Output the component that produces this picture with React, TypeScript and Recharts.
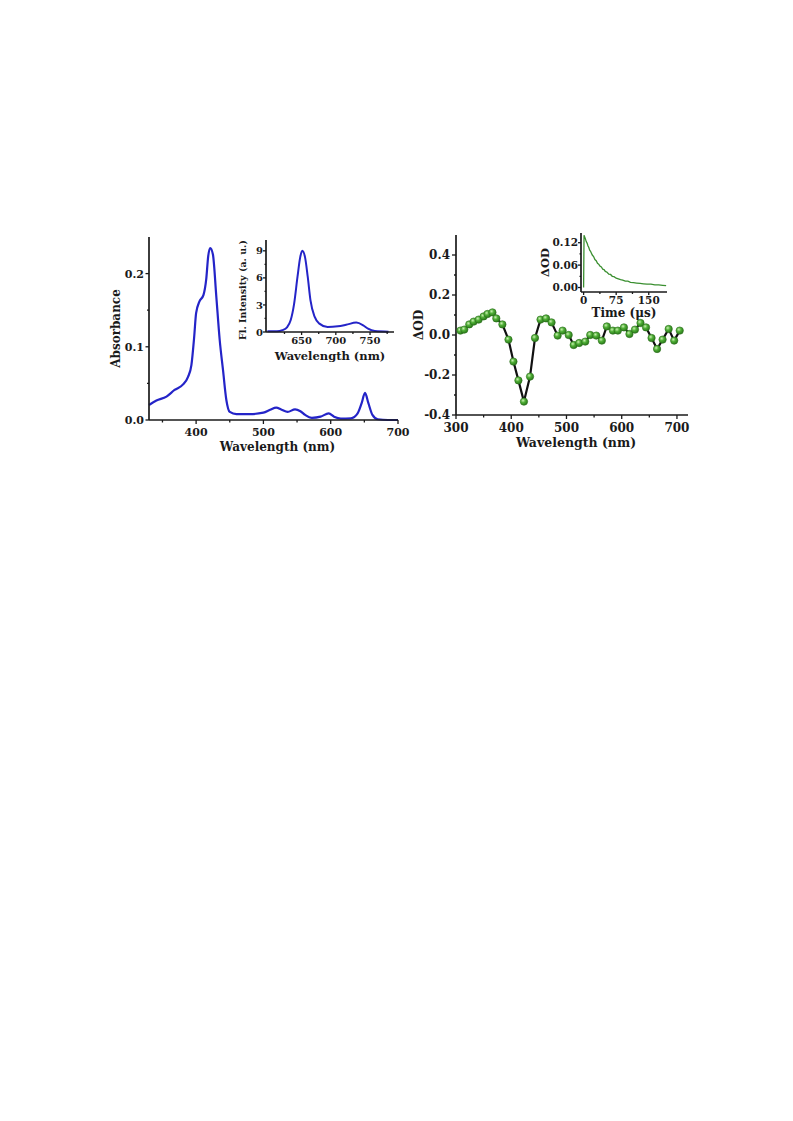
import React from 'react';
import { LineChart, Line, XAxis, YAxis } from 'recharts';

// ---- Left main: absorbance spectrum ----
const absWavelength = [330, 341, 356, 368, 381, 388, 393, 397, 400, 405, 411, 415, 418, 421, 425, 430, 435, 440, 445, 450, 460, 480, 500, 510, 519, 527, 536, 547, 555, 562, 572, 585, 597, 605, 615, 630, 640, 646, 651, 656, 662, 670, 685, 700];
const absValues = [0.0205, 0.0265, 0.032, 0.041, 0.049, 0.059, 0.075, 0.112, 0.146, 0.162, 0.171, 0.192, 0.224, 0.235, 0.226, 0.169, 0.11, 0.068, 0.027, 0.011, 0.008, 0.008, 0.01, 0.014, 0.017, 0.014, 0.011, 0.0146, 0.012, 0.007, 0.003, 0.0046, 0.009, 0.0046, 0.002, 0.0023, 0.009, 0.023, 0.037, 0.023, 0.007, 0.001, 0, 0];
const absXTicks = [350, 400, 450, 500, 550, 600, 650, 700];
const absXMajor = [400, 500, 600, 700];
const absYTicks = [0, 0.05, 0.1, 0.15, 0.2];
const absYMajor = [0, 0.1, 0.2];

// ---- Left inset: fluorescence ----
const flWavelength = [600, 614, 622, 629, 634, 639, 644, 648, 651, 655, 659, 663, 669, 676, 688, 703, 715, 730, 740, 747, 757, 777];
const flValues = [0.07, 0.07, 0.2, 0.55, 1.3, 3.1, 6.1, 8.3, 9.0, 8.3, 6.1, 3.5, 1.7, 0.93, 0.55, 0.63, 0.8, 1.04, 0.74, 0.37, 0.11, 0.04];
const flXTicks = [625, 650, 675, 700, 725, 750, 775];
const flXMajor = [650, 700, 750];
const flYTicks = [0, 1.5, 3, 4.5, 6, 7.5, 9];
const flYMajor = [0, 3, 6, 9];

// ---- Right main: transient absorption ----
const taWavelength = [308, 315, 324, 332, 341, 350, 357, 366, 373, 384, 395, 404, 413, 423, 434, 443, 453, 463, 473, 484, 493, 504, 513, 523, 534, 543, 554, 564, 573, 584, 593, 604, 614, 624, 634, 644, 654, 664, 674, 685, 695, 705];
const taValues = [0.022, 0.027, 0.053, 0.067, 0.077, 0.093, 0.105, 0.113, 0.083, 0.053, -0.023, -0.133, -0.227, -0.333, -0.208, -0.015, 0.077, 0.083, 0.063, -0.003, 0.022, 0.0, -0.05, -0.04, -0.033, 0.0, -0.003, -0.028, 0.043, 0.022, 0.022, 0.038, 0.005, 0.027, 0.06, 0.038, -0.015, -0.07, -0.023, 0.03, -0.028, 0.022];
const taXTicks = [300, 350, 400, 450, 500, 550, 600, 650, 700];
const taXMajor = [300, 400, 500, 600, 700];
const taYTicks = [-0.4, -0.3, -0.2, -0.1, 0, 0.1, 0.2, 0.3, 0.4];
const taYMajor = [-0.4, -0.2, 0, 0.2, 0.4];

// ---- Right inset: decay ----
const decayTime = [0, 1, 2, 4, 6, 8, 10, 12, 14, 16, 18, 20, 23, 26, 29, 32, 35, 38, 41, 44, 47, 50, 54, 58, 62, 66, 70, 75, 80, 85, 90, 96, 102, 108, 115, 122, 130, 138, 146, 155, 164, 173, 182, 190];
const decayValues = [0.0, 0.14, 0.137, 0.131, 0.123, 0.119, 0.112, 0.107, 0.1, 0.097, 0.092, 0.087, 0.083, 0.075, 0.072, 0.065, 0.062, 0.057, 0.055, 0.049, 0.048, 0.043, 0.041, 0.036, 0.035, 0.03, 0.029, 0.025, 0.023, 0.021, 0.02, 0.017, 0.017, 0.014, 0.013, 0.012, 0.011, 0.01, 0.009, 0.009, 0.007, 0.007, 0.006, 0.005];
const decayXTicks = [0, 37.5, 75, 112.5, 150];
const decayXMajor = [0, 75, 150];
const decayYTicks = [0, 0.03, 0.06, 0.09, 0.12];
const decayYMajor = [0, 0.06, 0.12];

const absData = absWavelength.map((w, i) => ({ w, v: absValues[i] }));
const flData = flWavelength.map((w, i) => ({ w, v: flValues[i] }));
const taData = taWavelength.map((w, i) => ({ w, v: taValues[i] }));
const decayData = decayTime.map((t, i) => ({ t, v: decayValues[i] }));

const FONT = '"DejaVu Serif", serif';
const INK = '#1a1a1a';

type TickOpts = {
  side: 'bottom' | 'left';
  majors: number[];
  fmt: (v: number) => string;
  fontSize: number;
  major: number;
  minor: number;
  gap: number;
};

const makeTick = (o: TickOpts) => (props: any) => {
  const { x, y, payload } = props;
  const v = payload.value as number;
  const isMajor = o.majors.some((m) => Math.abs(m - v) < 1e-9);
  const len = isMajor ? o.major : o.minor;
  if (o.side === 'bottom') {
    return (
      <g>
        <line x1={x} y1={y} x2={x} y2={y + len} stroke={INK} strokeWidth={1.3} />
        {isMajor && (
          <text x={x} y={y + o.gap} textAnchor="middle" fontSize={o.fontSize} fontWeight="bold" fontFamily={FONT} fill={INK}>
            {o.fmt(v)}
          </text>
        )}
      </g>
    );
  }
  return (
    <g>
      <line x1={x - len} y1={y} x2={x} y2={y} stroke={INK} strokeWidth={1.3} />
      {isMajor && (
        <text x={x - o.gap} y={y} dy="0.36em" textAnchor="end" fontSize={o.fontSize} fontWeight="bold" fontFamily={FONT} fill={INK}>
          {o.fmt(v)}
        </text>
      )}
    </g>
  );
};

const labelStyle = (size: number) => ({ textAnchor: 'middle' as const, fontFamily: FONT, fontWeight: 'bold' as const, fontSize: size, fill: INK });
const axisLine = { stroke: INK, strokeWidth: 1.7 };

const Ball = (props: any) => {
  const { cx, cy, index } = props;
  if (cx == null || cy == null) return <g key={index} />;
  return <circle key={index} cx={cx} cy={cy} r={3.7} fill="url(#ballGrad)" stroke="#2c6e1c" strokeWidth={0.6} />;
};

const box = (left: number, top: number): React.CSSProperties => ({ position: 'absolute', left, top });

export default function App() {
  return (
    <div style={{ position: 'absolute', left: 0, top: 0, width: 793, height: 1121, background: '#fff' }}>
      {/* Left main */}
      <div style={box(99, 230)}>
        <LineChart width={312} height={232} data={absData} margin={{ top: 7, right: 13, bottom: 0, left: 0 }}>
          <XAxis
            dataKey="w"
            type="number"
            domain={[330, 700]}
            ticks={absXTicks}
            interval={0}
            height={42}
            tickSize={0}
            tickMargin={0}
            tickLine={false}
            axisLine={axisLine}
            tick={makeTick({ side: 'bottom', majors: absXMajor, fmt: (v) => String(v), fontSize: 11, major: 4, minor: 2.5, gap: 16 })}
            label={{ value: 'Wavelength (nm)', position: 'insideBottom', offset: 11, dx: 4, style: labelStyle(12) }}
          />
          <YAxis
            type="number"
            domain={[0, 0.25]}
            ticks={absYTicks}
            interval={0}
            width={50}
            tickSize={0}
            tickMargin={0}
            tickLine={false}
            axisLine={axisLine}
            tick={makeTick({ side: 'left', majors: absYMajor, fmt: (v) => v.toFixed(1), fontSize: 11, major: 3.5, minor: 2, gap: 5 })}
            label={{ value: 'Absorbance', angle: -90, position: 'insideLeft', offset: 17, style: labelStyle(12) }}
          />
          <Line type="monotone" dataKey="v" stroke="#2424c8" strokeWidth={2.2} dot={false} isAnimationActive={false} />
        </LineChart>
      </div>

      {/* Left inset */}
      <div style={box(234, 222)}>
        <LineChart width={163} height={140} data={flData} margin={{ top: 18, right: 3, bottom: 0, left: 0 }}>
          <XAxis
            dataKey="w"
            type="number"
            domain={[598, 785]}
            ticks={flXTicks}
            interval={0}
            height={30}
            tickSize={0}
            tickMargin={0}
            tickLine={false}
            axisLine={axisLine}
            tick={makeTick({ side: 'bottom', majors: flXMajor, fmt: (v) => String(v), fontSize: 10, major: 3, minor: 2, gap: 12 })}
            label={{ value: 'Wavelength (nm)', position: 'insideBottom', offset: 2, style: labelStyle(11.5) }}
          />
          <YAxis
            type="number"
            domain={[0, 10.2]}
            ticks={flYTicks}
            interval={0}
            width={32}
            tickSize={0}
            tickMargin={0}
            tickLine={false}
            axisLine={axisLine}
            tick={makeTick({ side: 'left', majors: flYMajor, fmt: (v) => String(v), fontSize: 10, major: 3, minor: 1.5, gap: 3 })}
            label={{ value: 'Fl. Intensity (a. u.)', angle: -90, position: 'insideLeft', offset: 9, dy: 4, style: labelStyle(9.5) }}
          />
          <Line type="monotone" dataKey="v" stroke="#2424c8" strokeWidth={2} dot={false} isAnimationActive={false} />
        </LineChart>
      </div>

      {/* Right main */}
      <div style={box(410, 230)}>
        <LineChart width={282} height={227} data={taData} margin={{ top: 5, right: 4, bottom: 0, left: 0 }}>
          <defs>
            <radialGradient id="ballGrad" cx="38%" cy="35%" r="65%">
              <stop offset="0%" stopColor="#c8f0b0" />
              <stop offset="45%" stopColor="#4fae36" />
              <stop offset="100%" stopColor="#2a7a1a" />
            </radialGradient>
          </defs>
          <XAxis
            dataKey="w"
            type="number"
            domain={[300, 720]}
            ticks={taXTicks}
            interval={0}
            height={42}
            tickSize={0}
            tickMargin={0}
            tickLine={false}
            axisLine={axisLine}
            tick={makeTick({ side: 'bottom', majors: taXMajor, fmt: (v) => String(v), fontSize: 12, major: 4, minor: 2.5, gap: 17 })}
            label={{ value: 'Wavelength (nm)', position: 'insideBottom', offset: 10, dx: 4, style: labelStyle(12.5) }}
          />
          <YAxis
            type="number"
            domain={[-0.4, 0.5]}
            ticks={taYTicks}
            interval={0}
            width={46}
            tickSize={0}
            tickMargin={0}
            tickLine={false}
            axisLine={axisLine}
            tick={makeTick({ side: 'left', majors: taYMajor, fmt: (v) => v.toFixed(1), fontSize: 12, major: 4, minor: 2, gap: 6 })}
            label={{ value: 'ΔOD', angle: -90, position: 'insideLeft', offset: 9, style: labelStyle(12) }}
          />
          <Line type="linear" dataKey="v" stroke="#111" strokeWidth={2.2} dot={Ball} activeDot={false} isAnimationActive={false} />
        </LineChart>
      </div>

      {/* Right inset */}
      <div style={box(536, 230)}>
        <LineChart width={133} height={90} data={decayData} margin={{ top: 3, right: 2, bottom: 0, left: 0 }}>
          <XAxis
            dataKey="t"
            type="number"
            domain={[-6, 192]}
            ticks={decayXTicks}
            interval={0}
            height={28}
            tickSize={0}
            tickMargin={0}
            tickLine={false}
            axisLine={axisLine}
            tick={makeTick({ side: 'bottom', majors: decayXMajor, fmt: (v) => String(v), fontSize: 10.5, major: 3, minor: 2, gap: 12 })}
            label={{ value: 'Time (μs)', position: 'insideBottom', offset: 3, style: labelStyle(12) }}
          />
          <YAxis
            type="number"
            domain={[-0.012, 0.146]}
            ticks={decayYTicks}
            interval={0}
            width={45}
            tickSize={0}
            tickMargin={0}
            tickLine={false}
            axisLine={axisLine}
            tick={makeTick({ side: 'left', majors: decayYMajor, fmt: (v) => v.toFixed(2), fontSize: 10.5, major: 3, minor: 1.5, gap: 3 })}
            label={{ value: 'ΔOD', angle: -90, position: 'insideLeft', offset: 9, style: labelStyle(11.5) }}
          />
          <Line type="linear" dataKey="v" stroke="#3a8f30" strokeWidth={1.3} dot={false} isAnimationActive={false} />
        </LineChart>
      </div>
    </div>
  );
}
